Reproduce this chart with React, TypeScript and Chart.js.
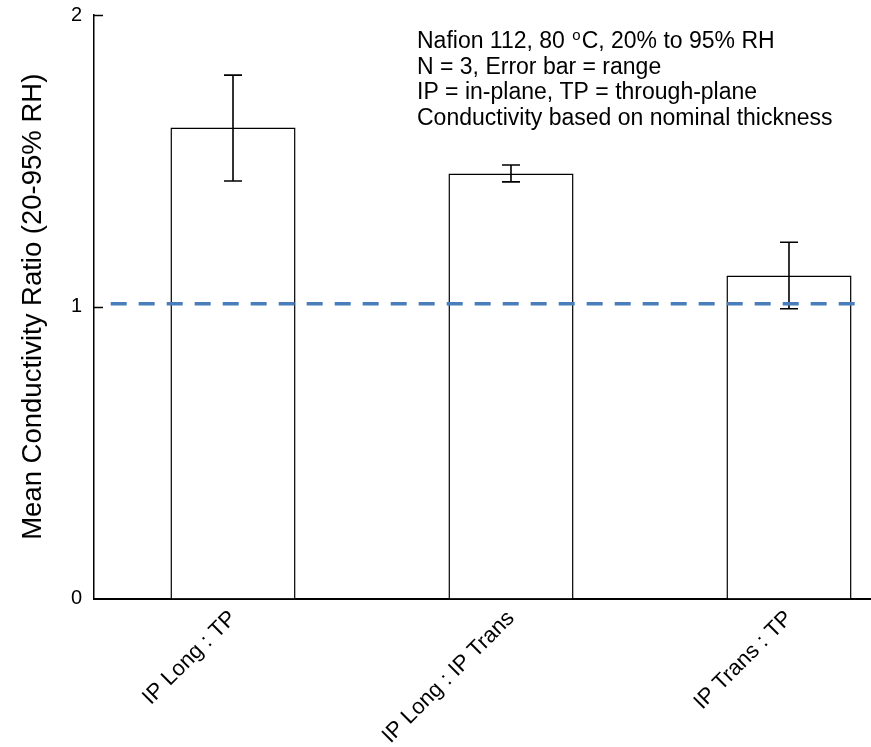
import React, { useEffect, useRef } from "react";
import { Chart, registerables } from "chart.js";

Chart.register(...registerables);

// ---- data ----
const categories = ["IP Long : TP", "IP Long : IP Trans", "IP Trans : TP"];
const categoryPositions = [0, 1, 2];
const meanRatios = [1.614, 1.457, 1.107];
const rangeLow = [1.431, 1.428, 0.993];
const rangeHigh = [1.794, 1.486, 1.221];
const referenceLineX = [-0.44, 2.24];
const referenceLineY = [1.01, 1.01];
const yTickValues = [0, 1, 2];
const yAxisTitle = "Mean Conductivity Ratio (20-95% RH)";
const noteLine1Before = "Nafion 112, 80 ";
const noteLine1Super = "o";
const noteLine1After = "C, 20% to 95% RH";
const noteLines = [
  "N = 3, Error bar = range",
  "IP = in-plane, TP = through-plane",
  "Conductivity based on nominal thickness",
];

const FONT = '"Liberation Sans", Arial, Helvetica, sans-serif';

const errorBarPlugin = {
  id: "errorBars",
  afterDatasetDraw(chart: any, args: any) {
    if (args.index !== 1) return;
    const ctx = chart.ctx;
    const xs = chart.scales.x;
    const ys = chart.scales.y;
    ctx.save();
    ctx.strokeStyle = "#000";
    ctx.lineWidth = 1.6;
    const cap = 9;
    categoryPositions.forEach((p, i) => {
      const x = xs.getPixelForValue(p);
      const yl = ys.getPixelForValue(rangeLow[i]);
      const yh = ys.getPixelForValue(rangeHigh[i]);
      ctx.beginPath();
      ctx.moveTo(x, yl);
      ctx.lineTo(x, yh);
      ctx.moveTo(x - cap, yl);
      ctx.lineTo(x + cap, yl);
      ctx.moveTo(x - cap, yh);
      ctx.lineTo(x + cap, yh);
      ctx.stroke();
    });
    ctx.restore();
  },
};

const decorPlugin = {
  id: "decor",
  afterDraw(chart: any) {
    const ctx = chart.ctx;
    const ys = chart.scales.y;
    const left = chart.chartArea.left;
    ctx.save();
    // inward y ticks
    ctx.strokeStyle = "#000";
    ctx.lineWidth = 1.5;
    yTickValues.forEach((v) => {
      if (v === 0) return;
      const y = Math.round(ys.getPixelForValue(v)) + 0.5;
      ctx.beginPath();
      ctx.moveTo(left, y);
      ctx.lineTo(left + 9, y);
      ctx.stroke();
    });
    // annotation text
    ctx.fillStyle = "#000";
    ctx.textBaseline = "alphabetic";
    ctx.textAlign = "left";
    const x0 = 417;
    const base0 = 48;
    const step = 25.6;
    ctx.font = `23px ${FONT}`;
    ctx.fillText(noteLine1Before, x0, base0);
    let x = x0 + ctx.measureText(noteLine1Before).width;
    ctx.font = `15px ${FONT}`;
    ctx.fillText(noteLine1Super, x + 1, base0 - 8);
    x += ctx.measureText(noteLine1Super).width + 2;
    ctx.font = `23px ${FONT}`;
    ctx.fillText(noteLine1After, x, base0);
    noteLines.forEach((t, i) => {
      ctx.fillText(t, x0, base0 + step * (i + 1));
    });
    ctx.restore();
  },
};

export default function App() {
  const ref = useRef<HTMLCanvasElement | null>(null);

  useEffect(() => {
    if (!ref.current) return;
    const chart = new Chart(ref.current, {
      type: "bar",
      data: {
        datasets: [
          {
            type: "line",
            label: "Reference",
            data: referenceLineX.map((x, i) => ({ x, y: referenceLineY[i] })),
            borderColor: "#4a7ebb",
            borderWidth: 3.5,
            borderDash: [16, 12],
            pointRadius: 0,
            fill: false,
            order: 0,
          } as any,
          {
            type: "bar",
            label: "Mean ratio",
            data: categoryPositions.map((x, i) => ({ x, y: meanRatios[i] })),
            backgroundColor: "#ffffff",
            borderColor: "#000000",
            borderWidth: 1.5,
            barPercentage: 0.45,
            categoryPercentage: 1,
            order: 1,
          } as any,
        ],
      },
      options: {
        animation: false,
        responsive: false,
        maintainAspectRatio: false,
        layout: { padding: { top: 15, left: 0, right: 0, bottom: 0 } },
        plugins: {
          legend: { display: false },
          tooltip: { enabled: false },
        },
        scales: {
          x: {
            type: "linear",
            min: -0.5,
            max: 2.295,
            offset: false,
            grid: { display: false, drawTicks: false },
            border: { display: true, color: "#000", width: 2 },
            afterBuildTicks: (axis: any) => {
              axis.ticks = categoryPositions.map((v) => ({ value: v }));
            },
            afterFit: (axis: any) => {
              axis.height = 148.5;
            },
            ticks: {
              autoSkip: false,
              maxRotation: 45,
              minRotation: 45,
              padding: 7,
              color: "#000",
              font: { family: FONT, size: 22 },
              callback: (v: any) => categories[Math.round(Number(v))] ?? "",
            },
          },
          y: {
            type: "linear",
            min: 0,
            max: 2,
            grid: { display: false, drawTicks: false },
            border: { display: true, color: "#000", width: 1.5 },
            afterBuildTicks: (axis: any) => {
              axis.ticks = yTickValues.map((v) => ({ value: v }));
            },
            afterFit: (axis: any) => {
              axis.width = 94;
              axis.paddingTop = 0;
              axis.paddingBottom = 0;
            },
            ticks: {
              padding: 12,
              color: "#000",
              font: { family: FONT, size: 20 },
            },
            title: {
              display: true,
              text: yAxisTitle,
              color: "#000",
              font: { family: FONT, size: 27.5, lineHeight: 1.2 },
              padding: { top: 17, bottom: 0 },
            },
          },
        },
      } as any,
      plugins: [errorBarPlugin, decorPlugin],
    });
    return () => chart.destroy();
  }, []);

  return (
    <div style={{ position: "absolute", left: 0, top: 0, width: 871, height: 747, background: "#fff" }}>
      <canvas ref={ref} width={871} height={747} style={{ display: "block" }} />
    </div>
  );
}
